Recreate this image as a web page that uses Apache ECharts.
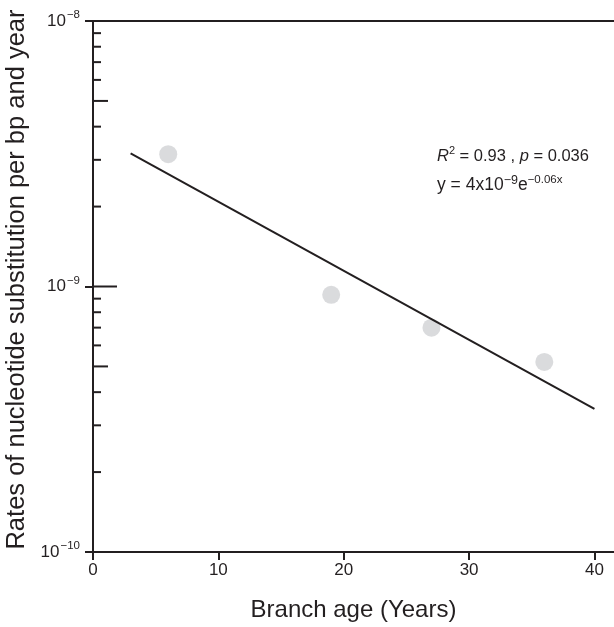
<!DOCTYPE html>
<html>
<head>
<meta charset="utf-8">
<script src="https://cdn.jsdelivr.net/npm/echarts@6/dist/echarts.min.js"></script>
<style>html,body{margin:0;padding:0;background:#fff;}#c{width:614px;height:627px;}</style>
</head>
<body>
<div id="c"></div>
<script>
// Data
const ageYears = [6, 19, 27, 36];
const rates = [3.15e-9, 0.93e-9, 0.70e-9, 0.52e-9];
const fitAge = [3, 40];
const fitRate = [3.17e-9, 3.46e-10];
const innerTickValues = [2e-10, 3e-10, 4e-10, 5e-10, 6e-10, 7e-10, 8e-10, 9e-10, 1e-9,
  2e-9, 3e-9, 4e-9, 5e-9, 6e-9, 7e-9, 8e-9, 9e-9];
const xTickValues = [0, 10, 20, 30, 40];
const yTitle = 'Rates of nucleotide substitution per bp and year';
const xTitle = 'Branch age (Years)';

const ink = '#231f20';
const font = '"Liberation Sans", Arial, sans-serif';

const chart = echarts.init(document.getElementById('c'));
chart.setOption({
  animation: false,
  backgroundColor: '#fff',
  grid: { left: 93, right: 0, top: 21, bottom: 75, outerBoundsMode: 'none' },
  xAxis: [{
    type: 'value', min: 0, max: 41.56, interval: 10,
    axisLine: { show: true, lineStyle: { color: ink, width: 2 } },
    axisTick: { show: true, length: 8, customValues: xTickValues, lineStyle: { color: ink, width: 2 } },
    axisLabel: {
      color: ink, fontFamily: font, fontSize: 17, margin: 10,
      customValues: xTickValues
    },
    splitLine: { show: false },
    name: xTitle, nameLocation: 'middle', nameGap: 46,
    nameTextStyle: { color: ink, fontFamily: font, fontSize: 24 }
  }, {
    type: 'value', min: 0, max: 41.56, position: 'top',
    axisLine: { show: true, lineStyle: { color: ink, width: 2 } },
    axisTick: { show: false }, axisLabel: { show: false }, splitLine: { show: false }
  }],
  yAxis: {
    type: 'log', logBase: 10, min: 1e-10, max: 1e-8,
    axisLine: { show: true, lineStyle: { color: ink, width: 2 } },
    axisTick: { show: true, length: 8, lineStyle: { color: ink, width: 2 } },
    minorTick: { show: false },
    splitLine: { show: false },
    axisLabel: {
      margin: 13,
      formatter: v => {
        const e = Math.round(Math.log10(v));
        return '{b|10}{s|\u2212' + (-e) + '}';
      },
      rich: {
        b: { fontFamily: font, fontSize: 17, color: ink, lineHeight: 26, verticalAlign: 'middle' },
        s: { fontFamily: font, fontSize: 11.5, color: ink, lineHeight: 26, verticalAlign: 'top', padding: [1, 0, 0, 1] }
      }
    },
    name: yTitle, nameLocation: 'middle', nameGap: 60,
    nameTextStyle: { color: ink, fontFamily: font, fontSize: 25.5, padding: [0, 0, 0, 14] }
  },
  series: [{
    type: 'scatter',
    data: ageYears.map((a, i) => [a, rates[i]]),
    symbol: 'circle', symbolSize: 18,
    itemStyle: { color: '#d1d2d4' },
    z: 2
  }, {
    type: 'line',
    data: fitAge.map((a, i) => [a, fitRate[i]]),
    showSymbol: false, symbol: 'none',
    lineStyle: { color: ink, width: 2 },
    z: 3
  }, {
    type: 'custom',
    silent: true, clip: false,
    data: innerTickValues.map(v => [0, v]),
    renderItem: (params, api) => {
      const v = api.value(1);
      const p = api.coord([0, v]);
      const m = Math.round(v / Math.pow(10, Math.floor(Math.log10(v) + 1e-9)));
      const len = m === 1 ? 24 : (m === 5 ? 15 : 8);
      return {
        type: 'line',
        shape: { x1: p[0], y1: p[1], x2: p[0] + len, y2: p[1] },
        style: { stroke: ink, lineWidth: 2 }
      };
    },
    z: 4
  }],
  graphic: [{
    type: 'text', left: 437, top: 145,
    style: {
      text: '{i|R}{s|2}{n| = 0.93 , }{i|p}{n| = 0.036}',
      rich: {
        n: { fontFamily: font, fontSize: 16.5, fill: ink, lineHeight: 22, verticalAlign: 'middle' },
        i: { fontFamily: font, fontSize: 16.5, fill: ink, fontStyle: 'italic', lineHeight: 22, verticalAlign: 'middle' },
        s: { fontFamily: font, fontSize: 11, fill: ink, lineHeight: 22, verticalAlign: 'top' }
      }
    }
  }, {
    type: 'text', left: 437, top: 174,
    style: {
      text: '{n|y = 4x10}{s|\u22129}{n|e}{t|\u22120.06x}',
      rich: {
        n: { fontFamily: font, fontSize: 17.5, fill: ink, lineHeight: 22, verticalAlign: 'middle' },
        s: { fontFamily: font, fontSize: 12.5, fill: ink, lineHeight: 22, verticalAlign: 'top' },
        t: { fontFamily: font, fontSize: 11.5, fill: ink, lineHeight: 22, verticalAlign: 'top' }
      }
    }
  }]
});
</script>
</body>
</html>
